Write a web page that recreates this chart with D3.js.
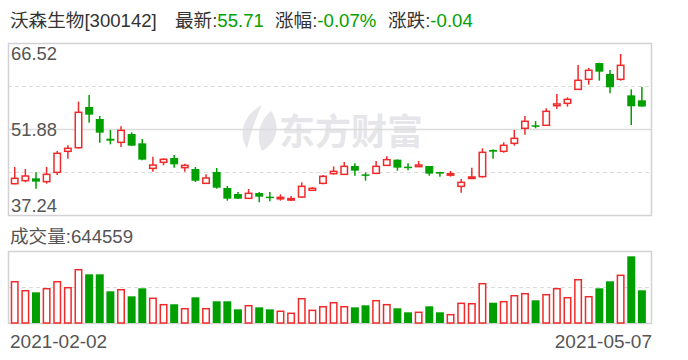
<!DOCTYPE html>
<html>
<head>
<meta charset="utf-8">
<script src="https://cdn.jsdelivr.net/npm/d3@7"></script>
<style>
  body { margin: 0; background: #fff; }
  svg text { font-family: "Liberation Sans", "Noto Sans CJK SC", sans-serif; }
</style>
</head>
<body>
<div id="chart"></div>
<script>
var dates = [
  "2021-02-02","2021-02-03","2021-02-04","2021-02-05","2021-02-08","2021-02-09","2021-02-10",
  "2021-02-18","2021-02-19","2021-02-22","2021-02-23","2021-02-24","2021-02-25","2021-02-26",
  "2021-03-01","2021-03-02","2021-03-03","2021-03-04","2021-03-05","2021-03-08","2021-03-09",
  "2021-03-10","2021-03-11","2021-03-12","2021-03-15","2021-03-16","2021-03-17","2021-03-18",
  "2021-03-19","2021-03-22","2021-03-23","2021-03-24","2021-03-25","2021-03-26","2021-03-29",
  "2021-03-30","2021-03-31","2021-04-01","2021-04-02","2021-04-06","2021-04-07","2021-04-08",
  "2021-04-09","2021-04-12","2021-04-13","2021-04-14","2021-04-15","2021-04-16","2021-04-19",
  "2021-04-20","2021-04-21","2021-04-22","2021-04-23","2021-04-26","2021-04-27","2021-04-28",
  "2021-04-29","2021-04-30","2021-05-06","2021-05-07"
];
var open = [42.57,43.09,43.48,42.92,44.50,48.08,48.70,55.63,53.58,50.23,49.61,51.03,49.44,45.18,46.21,
  46.94,45.30,45.07,42.63,44.56,41.84,40.81,40.08,40.98,40.36,40.13,39.99,40.30,41.44,42.63,
  44.28,44.16,45.58,44.16,44.33,45.69,46.66,45.47,45.47,45.58,44.56,44.22,42.12,43.65,43.77,
  48.31,48.08,49.44,52.00,52.51,52.51,55.85,56.25,58.63,60.34,63.12,61.24,60.34,57.61,56.76];
var high = [45.41,45.07,44.50,45.41,48.14,49.10,56.53,57.67,54.09,51.71,52.33,51.31,50.18,47.17,46.89,
  47.45,45.98,45.41,44.16,45.24,42.18,41.16,41.67,41.16,41.16,40.76,40.47,42.80,42.01,44.05,
  45.52,46.26,46.03,44.50,46.43,47.23,46.70,46.03,46.43,45.58,44.62,44.73,43.37,45.30,48.59,
  48.42,49.61,51.71,54.10,53.24,55.40,57.84,57.27,62.78,62.27,63.16,61.93,64.65,58.63,59.03];
var low = [42.46,42.80,41.72,42.57,44.05,46.83,48.53,52.96,49.55,49.27,48.82,48.98,46.55,44.62,45.70,
  45.30,44.62,42.86,42.57,41.72,39.68,39.96,40.02,39.40,39.57,39.68,39.62,40.13,41.33,42.46,
  44.11,44.10,43.94,43.08,44.27,45.63,44.79,44.84,45.47,43.94,43.77,43.77,41.04,43.65,43.60,
  46.83,47.85,49.05,50.92,52.00,52.45,55.29,55.68,58.57,59.43,60.11,57.95,60.11,52.56,55.65];
var close = [43.48,43.88,42.92,44.16,47.74,48.59,54.72,54.32,51.26,49.89,51.65,49.04,46.66,45.75,46.72,
  45.86,45.69,43.08,43.54,41.89,40.02,40.02,40.93,40.36,40.13,40.25,40.04,42.12,41.78,43.82,
  44.67,45.52,44.79,44.05,45.52,46.66,45.30,45.41,45.75,44.28,44.28,44.28,42.80,43.71,47.91,
  48.02,49.10,50.29,53.19,52.39,54.89,56.14,56.93,60.17,61.87,61.64,58.98,62.72,55.75,55.71];
var volume = [814000,637000,605000,676000,814000,696000,1051000,960000,960000,625000,656000,526000,684000,487000,361000,
  369000,282000,507000,282000,428000,428000,270000,341000,309000,270000,231000,191000,479000,250000,321000,
  400000,321000,309000,349000,440000,361000,290000,211000,211000,329000,211000,164000,388000,380000,775000,
  400000,420000,538000,578000,447000,558000,676000,499000,853000,518000,684000,822000,940000,1315000,644559];
var priceTicks = [66.52, 51.88, 37.24];
var volumeMax = 1420000;

var stockName = "沃森生物[300142]",
    latest = "55.71",
    pctChange = "-0.07%",
    change = "-0.04";

var w = 688, h = 360,
    left = 8, right = 651,
    kTop = 43, kBot = 215,
    vTop = 251, vBot = 323,
    red = "#f02a2a", green = "#009f00",
    gridColor = "#dcdcdc", borderColor = "#d2d2d6", textColor = "#555";

var svg = d3.select("#chart").append("svg")
    .attr("width", w)
    .attr("height", h);

var x = d3.scaleBand().domain(dates).range([9.4, 647.2]);
var bw = x.step() * 0.75;
var cx = function(i) { return x(dates[i]) + x.step() / 2; };

var y = d3.scaleLinear()
    .domain([priceTicks[2], priceTicks[0]])
    .range([kBot, kTop]);

var yv = d3.scaleLinear()
    .domain([0, volumeMax])
    .range([vBot, vTop]);

// title line
var title = svg.append("text")
    .attr("x", 10)
    .attr("y", 27)
    .attr("font-size", 18.6)
    .attr("fill", "#333");
title.append("tspan").text(stockName);
title.append("tspan").attr("x", 175).text("最新:");
title.append("tspan").attr("fill", green).text(latest);
title.append("tspan").attr("x", 275).text("涨幅:");
title.append("tspan").attr("fill", green).text(pctChange);
title.append("tspan").attr("x", 388).text("涨跌:");
title.append("tspan").attr("fill", green).text(change);

// watermark
var wm = svg.append("g").attr("fill", "#e6e6ea");
wm.append("path")
    .attr("d", "M262,105 C245,114 237,131 247,149 C250,136 254,122 262,105 Z");
wm.append("path")
    .attr("d", "M271,111 C258,122 256,139 262,151 C277,143 281,126 271,111 Z");
wm.append("text")
    .attr("x", 279)
    .attr("y", 145)
    .attr("font-size", 36)
    .attr("font-weight", "bold")
    .text("东方财富");

// price grid
var yMid = [(priceTicks[0] + priceTicks[1]) / 2, (priceTicks[1] + priceTicks[2]) / 2];
svg.selectAll(".dash")
    .data(yMid)
  .enter().append("line")
    .attr("x1", left).attr("x2", right)
    .attr("y1", function(d) { return Math.round(y(d)) + 0.5; })
    .attr("y2", function(d) { return Math.round(y(d)) + 0.5; })
    .attr("stroke", gridColor)
    .attr("stroke-dasharray", "4,3");

svg.append("line")
    .attr("x1", left).attr("x2", right)
    .attr("y1", Math.round(y(priceTicks[1])) + 0.5)
    .attr("y2", Math.round(y(priceTicks[1])) + 0.5)
    .attr("stroke", gridColor)
    .attr("stroke-width", 1.5);

svg.append("rect")
    .attr("x", left + 0.5).attr("y", kTop + 0.5)
    .attr("width", right - left).attr("height", kBot - kTop)
    .attr("fill", "none")
    .attr("stroke", borderColor)
    .attr("stroke-width", 1.5);

// price labels
svg.selectAll(".plabel")
    .data(priceTicks)
  .enter().append("text")
    .attr("x", 11)
    .attr("y", function(d, i) {
      return i === 0 ? y(d) + 17 : i === 1 ? y(d) + 7 : y(d) - 3;
    })
    .attr("font-size", 18.4)
    .attr("fill", textColor)
    .text(function(d) { return d.toFixed(2); });

// candles
var idx = d3.range(dates.length);
var candle = svg.append("g").selectAll("g")
    .data(idx)
  .enter().append("g");

candle.append("line")
    .attr("x1", function(i) { return cx(i); })
    .attr("x2", function(i) { return cx(i); })
    .attr("y1", function(i) { return y(high[i]); })
    .attr("y2", function(i) { return y(low[i]); })
    .attr("stroke", function(i) { return close[i] >= open[i] ? red : green; })
    .attr("stroke-width", 1.5);

candle.append("rect")
    .attr("x", function(i) { return close[i] >= open[i] ? cx(i) - bw / 2 + 0.75 : cx(i) - bw / 2; })
    .attr("width", function(i) { return close[i] >= open[i] ? bw - 1.5 : bw; })
    .attr("y", function(i) { return y(Math.max(open[i], close[i])); })
    .attr("height", function(i) { return Math.max(1.5, Math.abs(y(open[i]) - y(close[i]))); })
    .attr("fill", function(i) { return close[i] >= open[i] ? "#fff" : green; })
    .attr("stroke", function(i) { return close[i] >= open[i] ? red : "none"; })
    .attr("stroke-width", 1.5);

// volume title
svg.append("text")
    .attr("x", 10)
    .attr("y", 243)
    .attr("font-size", 18.6)
    .attr("fill", textColor)
    .text("成交量:" + volume[volume.length - 1]);

// volume grid + box
svg.append("line")
    .attr("x1", left).attr("x2", right)
    .attr("y1", Math.round(yv(volumeMax / 2)) + 0.5)
    .attr("y2", Math.round(yv(volumeMax / 2)) + 0.5)
    .attr("stroke", gridColor)
    .attr("stroke-dasharray", "4,3");

svg.append("rect")
    .attr("x", left + 0.5).attr("y", vTop + 0.5)
    .attr("width", right - left).attr("height", vBot - vTop)
    .attr("fill", "none")
    .attr("stroke", borderColor)
    .attr("stroke-width", 1.5);

svg.append("g").selectAll("rect")
    .data(idx)
  .enter().append("rect")
    .attr("x", function(i) { return close[i] >= open[i] ? cx(i) - bw / 2 + 0.75 : cx(i) - bw / 2; })
    .attr("width", function(i) { return close[i] >= open[i] ? bw - 1.5 : bw; })
    .attr("y", function(i) { return yv(volume[i]); })
    .attr("height", function(i) { return vBot - yv(volume[i]); })
    .attr("fill", function(i) { return close[i] >= open[i] ? "#fff" : green; })
    .attr("stroke", function(i) { return close[i] >= open[i] ? red : "none"; })
    .attr("stroke-width", 1.5);

// date labels
svg.append("text")
    .attr("x", 10)
    .attr("y", 348)
    .attr("font-size", 19)
    .attr("fill", textColor)
    .text(dates[0]);

svg.append("text")
    .attr("x", 652)
    .attr("y", 348)
    .attr("font-size", 19)
    .attr("text-anchor", "end")
    .attr("fill", textColor)
    .text(dates[dates.length - 1]);
</script>
</body>
</html>
